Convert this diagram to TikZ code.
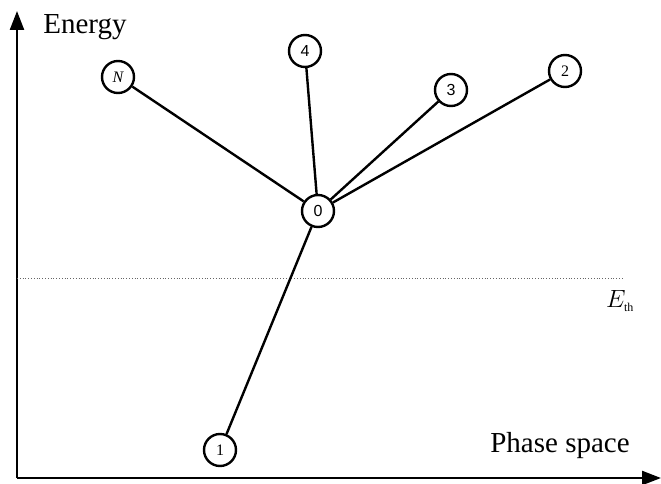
\documentclass[tikz,border=0pt]{standalone}
\usepackage{fontspec}
\setmainfont{Liberation Serif}
\newfontfamily\numsans{Liberation Sans}
\usetikzlibrary{arrows.meta}
\begin{document}
\begin{tikzpicture}[x=1pt,y=-1pt,
  state/.style={draw,circle,line width=2.4pt,minimum size=32pt,inner sep=0pt,font=\fontsize{16}{16}\selectfont},
  link/.style={line width=2.4pt},
  axis/.style={line width=2.4pt,-{Triangle[length=19pt,width=14pt]}}]
\useasboundingbox (0,0) rectangle (661,484);
\coordinate (o) at (17,478);
\coordinate (ytop) at (17,11);
\coordinate (xend) at (661,478);
\draw[axis] (o) -- (ytop);
\draw[axis] (o) -- (xend);
\node[font=\fontsize{29}{29}\selectfont] (elab) at (85,27) {Energy};
\node[font=\fontsize{29}{29}\selectfont] (plab) at (560,446) {Phase space};
\coordinate (t1) at (17,278);
\coordinate (t2) at (622,278);
\draw[dotted,line width=0.8pt,black!60] (t1) -- (t2);
\node[font=\fontsize{24}{24}\selectfont] (eth) at (620,301) {$E_{\scriptscriptstyle\mathrm{th}}$};
\node[state] (n0) at (318,211) {\numsans 0};
\node[state] (nN) at (118,77) {\itshape N};
\node[state] (n4) at (305,51) {\numsans 4};
\node[state] (n3) at (451,90) {\numsans 3};
\node[state] (n2) at (565,71) {2};
\node[state] (n1) at (220,450) {1};
\draw[link] (n0) -- (nN);
\draw[link] (n0) -- (n4);
\draw[link] (n0) -- (n3);
\draw[link] (n0) -- (n2);
\draw[link] (n0) -- (n1);
\end{tikzpicture}
\end{document}
